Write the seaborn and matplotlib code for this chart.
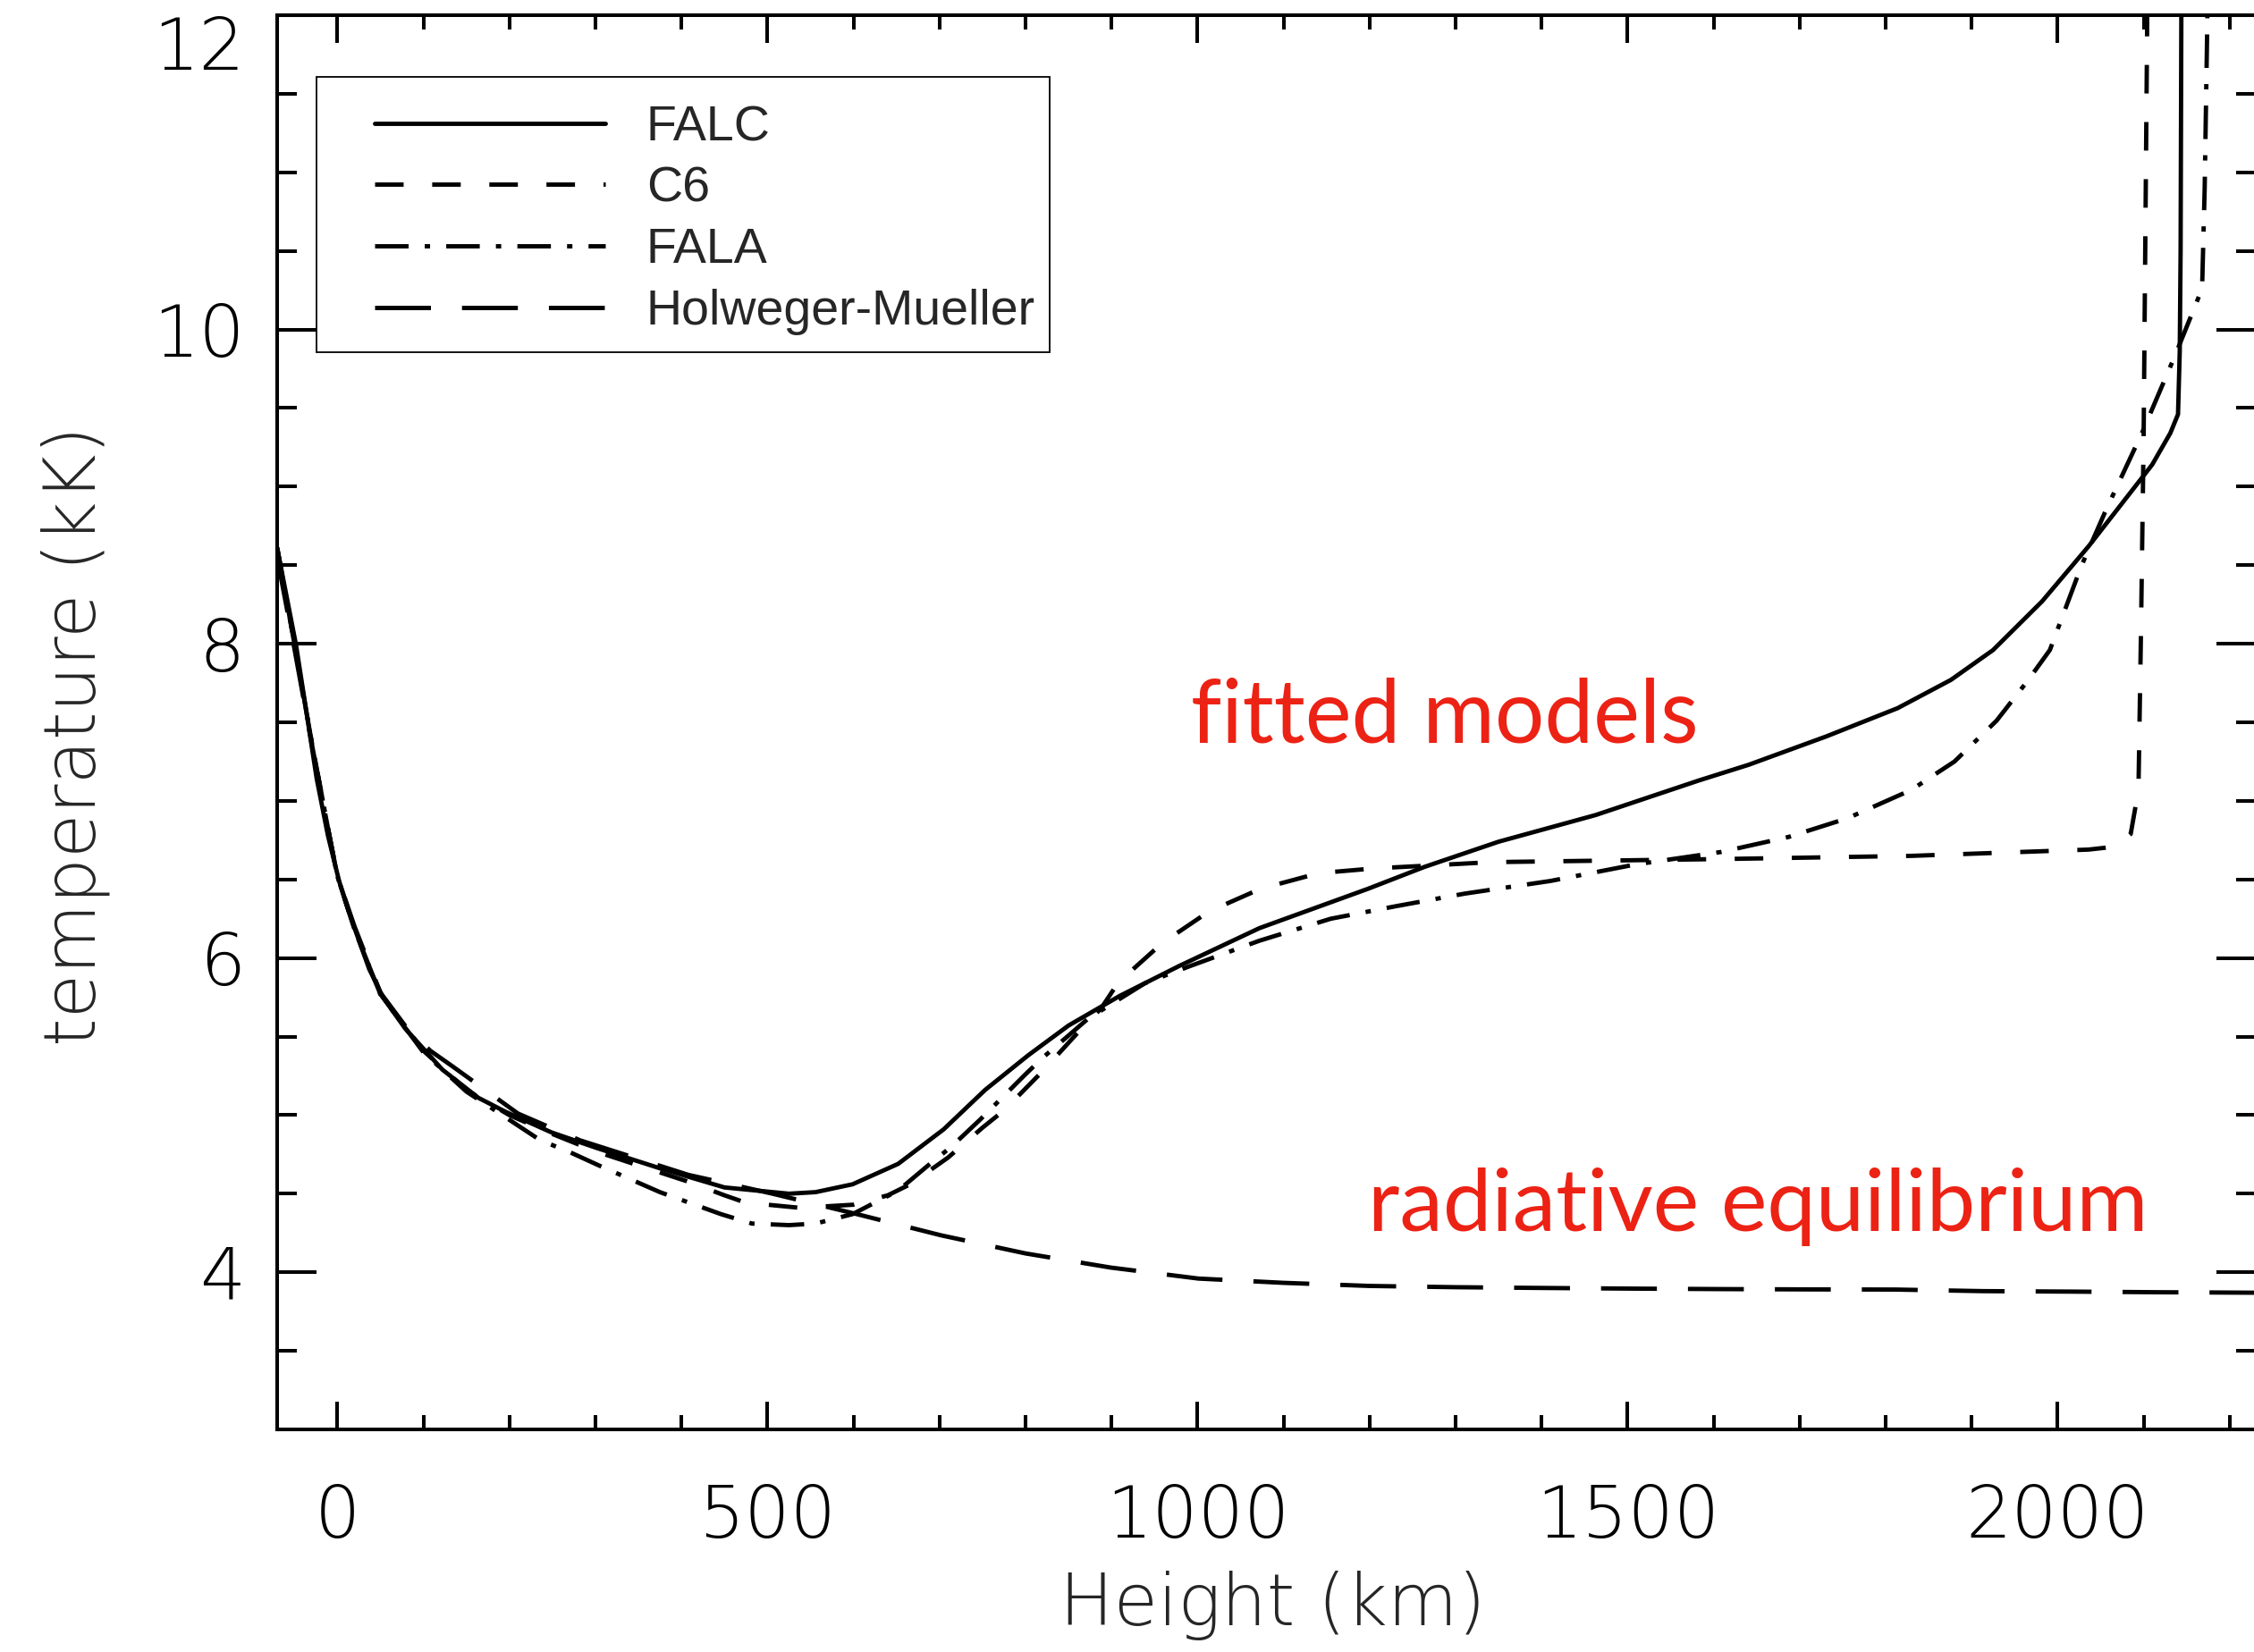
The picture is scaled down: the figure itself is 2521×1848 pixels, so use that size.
import matplotlib
matplotlib.use("Agg")
import matplotlib.pyplot as plt
from matplotlib import font_manager as fm
from matplotlib.patches import Rectangle
from matplotlib.lines import Line2D
from matplotlib.ticker import MultipleLocator
import seaborn as sns

# Temperature stratification of solar atmosphere models (height in km, T in kK)
falc_h = [-70, -48, -35, -24, -11, 2, 18, 37, 53, 79, 122, 164, 196, 249, 302, 376, 450,
          525, 556, 599, 652, 705, 753, 803, 850, 910, 979, 1072, 1198, 1264, 1350, 1463,
          1583, 1641, 1731, 1814, 1876, 1925, 1982, 2036, 2110, 2131, 2140, 2142, 2143, 2145]
falc_t = [8.61, 7.99, 7.53, 7.14, 6.78, 6.49, 6.22, 5.93, 5.75, 5.55, 5.29, 5.11, 5.02, 4.89,
          4.79, 4.66, 4.54, 4.50, 4.51, 4.56, 4.69, 4.91, 5.16, 5.38, 5.57, 5.76, 5.95, 6.19,
          6.44, 6.58, 6.74, 6.91, 7.13, 7.23, 7.41, 7.59, 7.77, 7.96, 8.27, 8.62, 9.14, 9.34,
          9.46, 9.86, 10.50, 14.0]

c6_h = [-70, -50, -30, -10, 0, 20, 50, 100, 150, 200, 250, 300, 350, 406, 450, 471, 500, 538,
        600, 640, 666, 710, 750, 775, 820, 860, 888, 908, 959, 1013, 1073, 1141, 1205, 1274,
        1341, 1476, 1612, 1830, 2036, 2069, 2085, 2094, 2097, 2100, 2104, 2106]
c6_t = [8.61, 8.00, 7.38, 6.80, 6.52, 6.18, 5.77, 5.41, 5.16, 5.00, 4.88, 4.77, 4.68, 4.58,
        4.49, 4.45, 4.43, 4.41, 4.43, 4.49, 4.56, 4.73, 4.92, 5.03, 5.28, 5.52, 5.68, 5.845,
        6.095, 6.295, 6.44, 6.54, 6.57, 6.59, 6.61, 6.62, 6.63, 6.65, 6.69, 6.71, 6.79, 7.07,
        8.10, 9.30, 11.86, 14.0]

fala_h = [-70, -50, -30, -10, 0, 20, 50, 100, 150, 200, 236, 268, 304, 375, 446, 482, 525,
          556, 599, 652, 689, 714, 747, 800, 820, 873, 939, 992, 1072, 1155, 1231, 1311, 1410,
          1509, 1609, 1687, 1756, 1830, 1880, 1929, 1966, 1991, 2028, 2057, 2098, 2137, 2168,
          2171, 2174, 2177]
fala_t = [8.61, 8.00, 7.38, 6.80, 6.52, 6.18, 5.77, 5.40, 5.15, 4.97, 4.84, 4.77, 4.68, 4.51,
          4.37, 4.31, 4.30, 4.31, 4.37, 4.52, 4.69, 4.80, 4.97, 5.26, 5.365, 5.615, 5.84, 5.95,
          6.11, 6.25, 6.33, 6.41, 6.49, 6.595, 6.675, 6.77, 6.89, 7.07, 7.25, 7.51, 7.77, 7.96,
          8.50, 8.86, 9.34, 9.84, 10.26, 10.90, 11.94, 14.0]

hm_h = [-70, -50, -30, -10, 0, 20, 50, 80, 108, 134, 210, 282, 408, 506, 604, 702, 800, 899,
        1001, 1099, 1200, 1300, 1404, 1505, 1607, 1709, 1812, 1913, 2015, 2116, 2230]
hm_t = [8.55, 7.97, 7.37, 6.80, 6.52, 6.20, 5.78, 5.56, 5.41, 5.31, 5.01, 4.84, 4.62, 4.50,
        4.37, 4.235, 4.12, 4.03, 3.96, 3.933, 3.913, 3.905, 3.90, 3.896, 3.893, 3.891, 3.89,
        3.88, 3.877, 3.873, 3.87]

model_names = ["FALC", "C6", "FALA", "Holweger-Mueller"]
xticks = [0, 500, 1000, 1500, 2000]
yticks = [4, 6, 8, 10, 12]

sns.set_style("white")
plt.rcParams["font.family"] = ["Liberation Sans", "DejaVu Sans"]
plt.rcParams["lines.scale_dashes"] = False


def weight_num(w):
    return w if isinstance(w, int) else fm.weight_dict.get(w, 400)


def find_font(candidates):
    for fam, lo, hi in candidates:
        for f in fm.fontManager.ttflist:
            if f.name == fam and f.style == "normal" and lo <= weight_num(f.weight) <= hi:
                return f.fname
    return None


thin_path = find_font([("DejaVu Sans", 100, 250), ("Roboto", 300, 300), ("Lato", 300, 300),
                       ("Open Sans", 300, 300), ("Noto Sans", 300, 300), ("Roboto", 400, 400),
                       ("DejaVu Sans", 400, 400)])
red_path = find_font([("Lato", 400, 400), ("Open Sans", 400, 400), ("Noto Sans", 400, 400),
                      ("DejaVu Sans", 400, 400)])


def thin(size):
    if thin_path:
        return fm.FontProperties(fname=thin_path, size=size)
    return fm.FontProperties(family="DejaVu Sans", size=size)


W, H = 2521, 1848
fig = plt.figure(figsize=(W / 100, H / 100), dpi=100)
ax = fig.add_axes([310 / W, 249 / H, 2212.6 / W, 1582 / H])

LW = 3.5
styles = {
    "FALC": "-",
    "C6": (0, (23, 23)),
    "FALA": (0, (27, 13, 4.3, 13)),
    "Holweger-Mueller": (0, (45, 25)),
}
series = {
    "FALC": (falc_h, falc_t),
    "C6": (c6_h, c6_t),
    "FALA": (fala_h, fala_t),
    "Holweger-Mueller": (hm_h, hm_t),
}
for name in model_names:
    h, t = series[name]
    sns.lineplot(x=h, y=t, ax=ax, color="black", linewidth=LW, linestyle=styles[name],
                 sort=False, estimator=None, legend=False)

ax.set_xlim(-70, 2230)
ax.set_ylim(3, 12)
ax.xaxis.set_major_locator(MultipleLocator(500))
ax.xaxis.set_minor_locator(MultipleLocator(100))
ax.yaxis.set_major_locator(MultipleLocator(2))
ax.yaxis.set_minor_locator(MultipleLocator(0.5))
ax.set_xticks(xticks)
ax.set_yticks(yticks)
ax.set_xticklabels([str(v) for v in xticks])
ax.set_yticklabels([str(v) for v in yticks])

ax.tick_params(axis="x", which="major", direction="in", length=22.3, width=2.9,
               top=True, bottom=True, pad=43, color="black")
ax.tick_params(axis="x", which="minor", direction="in", length=11.2, width=2.9,
               top=True, bottom=True, color="black")
ax.tick_params(axis="y", which="major", direction="in", length=31.7, width=2.9,
               left=True, right=True, pad=26, color="black")
ax.tick_params(axis="y", which="minor", direction="in", length=15.8, width=2.9,
               left=True, right=True, color="black")
for lab in ax.get_xticklabels() + ax.get_yticklabels():
    lab.set_fontproperties(thin(58))
    lab.set_color("black")
# the topmost label hangs below the top edge of the frame
ax.get_yticklabels()[-1].set_verticalalignment("top")
for sp in ax.spines.values():
    sp.set_visible(True)
    sp.set_linewidth(2.9)
    sp.set_color("black")

ax.set_xlabel("Height (km)", fontproperties=thin(58), va="center")
ax.xaxis.set_label_coords(0.503, -0.1245)
ax.set_ylabel("temperature (kK)", fontproperties=thin(58), va="center", rotation=90)
ax.yaxis.set_label_coords(-0.102, 0.4905)

# legend: plain black frame with the four line styles
frame = Rectangle((354 / W, 1 - 394 / H), 820 / W, 308 / H, transform=fig.transFigure,
                  facecolor="white", edgecolor="black", linewidth=1.3, zorder=4.5,
                  clip_on=False)
ax.add_patch(frame)
handles = [Line2D([], [], color="black", linewidth=LW, linestyle=styles[n]) for n in model_names]
leg = ax.legend(handles, model_names, loc="upper left",
                bbox_to_anchor=(419 / W, 1 - 117 / H), bbox_transform=fig.transFigure,
                frameon=False, borderpad=0, borderaxespad=0, handlelength=4.65,
                handletextpad=0.82, labelspacing=0.30,
                prop={"family": ["Liberation Sans", "DejaVu Sans"], "size": 40})
leg.set_zorder(6)

red = "#EC2215"
red_font = fm.FontProperties(fname=red_path, size=72) if red_path else fm.FontProperties(size=72)
t1 = ax.text(992, 7.37, "fitted models", color=red, fontproperties=red_font,
             ha="left", va="baseline")
t2 = ax.text(1198.5, 4.265, "radiative equilibrium", color=red,
             fontproperties=red_font.copy(), ha="left", va="baseline")

fig.canvas.draw()
renderer = fig.canvas.get_renderer()
for txt, target in ((t1, 567.0), (t2, 872.0)):
    w = txt.get_window_extent(renderer).width
    txt.set_fontsize(txt.get_fontsize() * target / w)

fig.savefig("out.png", dpi=100, facecolor="white")
